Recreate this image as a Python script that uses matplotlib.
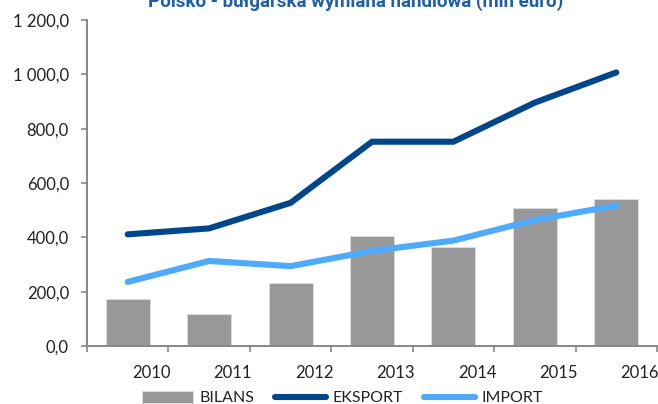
"""Polsko - bułgarska wymiana handlowa (mln euro)."""
import matplotlib
matplotlib.use("Agg")
import matplotlib.pyplot as plt
from matplotlib.ticker import FuncFormatter, FixedLocator

years = ["2010", "2011", "2012", "2013", "2014", "2015", "2016"]
bilans = [173, 119, 231, 405, 365, 508, 541]
eksport = [411, 433, 527, 752, 752, 896, 1007]
imports = [236, 313, 294, 350, 388, 464, 517]

GRAY = "#999999"; NAVY = "#00468b"; SKY = "#4daafc"; AXIS = "#868686"

plt.rcParams["font.family"] = ["Lato", "DejaVu Sans"]

fig = plt.figure(figsize=(6.58, 4.04), dpi=100)
ax = fig.add_axes([87 / 658, 58 / 404, 570 / 658, 326 / 404])

x = list(range(len(years)))
b = ax.bar(x, bilans, width=0.54, color=GRAY, edgecolor="#dddddd", lw=0.6,
           label="BILANS", zorder=2)
l1, = ax.plot(x, eksport, color=NAVY, lw=4.4, solid_capstyle="round",
              solid_joinstyle="miter", label="EKSPORT", zorder=3)
l2, = ax.plot(x, imports, color=SKY, lw=4.4, solid_capstyle="round",
              solid_joinstyle="miter", label="IMPORT", zorder=3)

ax.set_xlim(-0.5, 6.5)
ax.set_ylim(0, 1200)
ax.set_yticks(range(0, 1201, 200))
ax.yaxis.set_major_formatter(FuncFormatter(
    lambda v, p: f"{v:,.1f}".replace(",", " ").replace(".", ",")))

# year labels sit right of the category centre, ticks on the boundaries
ax.xaxis.set_major_locator(FixedLocator([i + 0.29 for i in x]))
ax.set_xticklabels(years)
ax.xaxis.set_minor_locator(FixedLocator([i - 0.5 for i in range(len(years) + 1)]))
ax.tick_params(axis="x", which="major", length=0, pad=14, labelsize=12,
               labelcolor="#222222")
ax.tick_params(axis="x", which="minor", length=4, width=1.2, color=AXIS)
ax.tick_params(axis="y", length=4, width=1.2, color=AXIS, pad=9,
               labelsize=12, labelcolor="#222222")

for s in ["top", "right"]:
    ax.spines[s].set_visible(False)
for s in ["left", "bottom"]:
    ax.spines[s].set_color(AXIS)
    ax.spines[s].set_linewidth(1.4)

fig.text(356 / 658, 1 - 7 / 404, "Polsko - bułgarska wymiana handlowa (mln euro)",
         ha="center", va="baseline", fontsize=13.5, fontweight="bold",
         color="#1f5fa8", family=["Roboto", "DejaVu Sans"])

ax.legend([b, l1, l2], ["BILANS", "EKSPORT", "IMPORT"], loc="center",
          bbox_to_anchor=(342 / 658, 1 - 398 / 404),
          bbox_transform=fig.transFigure, ncol=3, frameon=False, fontsize=11.5,
          handlelength=3.2, handleheight=0.8, handletextpad=0.4, columnspacing=1.3,
          labelcolor="#222222")

fig.savefig("out.png", dpi=100, facecolor="white")
